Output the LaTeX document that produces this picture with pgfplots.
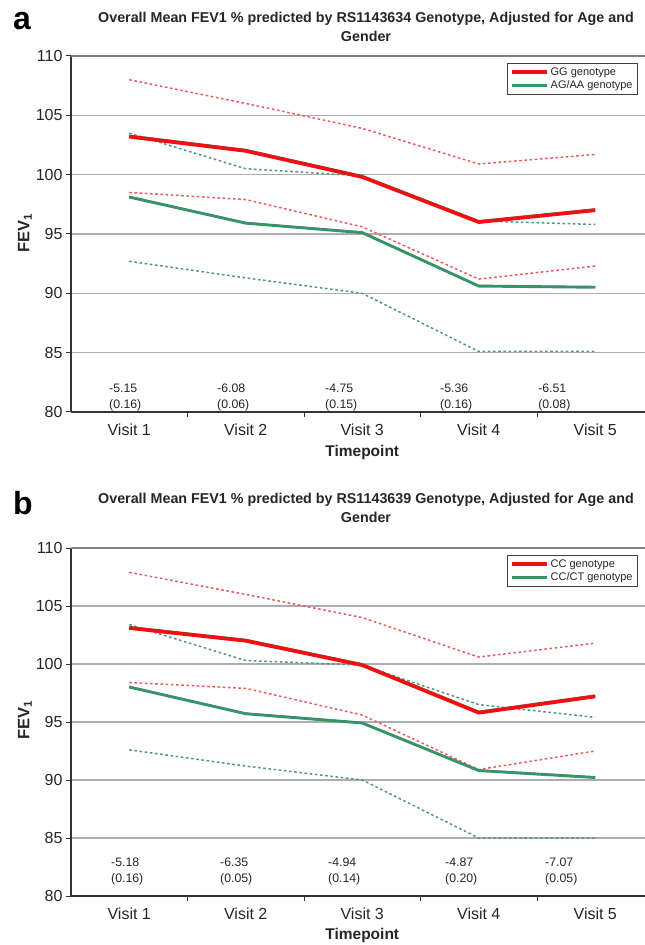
\documentclass[border=0pt]{standalone}
\usepackage{pgfplots}
\usepackage{pgfplotstable}
\pgfplotsset{compat=1.18}
\usepackage{fontspec}
\setmainfont{Liberation Sans}

\definecolor{meanred}{RGB}{240,16,16}
\definecolor{meangreen}{RGB}{50,150,102}
\definecolor{cired}{RGB}{236,92,92}
\definecolor{cigreen}{RGB}{86,150,120}
\definecolor{txt}{RGB}{38,38,38}

% panel a: means and 95% limits per visit
\pgfplotstableread{
visit GGm  AGm  GGhi  GGlo AGhi  AGlo
1     103.2 98.1 108.0 98.5 103.5 92.7
2     102.0 95.9 106.0 97.9 100.5 91.3
3     99.8  95.1 103.9 95.6 99.9  90.0
4     96.0  90.6 100.9 91.2 96.1  85.1
5     97.0  90.5 101.7 92.3 95.8  85.1
}\panela
% panel b
\pgfplotstableread{
visit CCm  CTm  CChi  CClo CThi  CTlo
1     103.1 98.0 107.9 98.4 103.4 92.6
2     102.0 95.7 106.0 97.9 100.3 91.2
3     99.9  94.9 104.0 95.6 99.9  90.0
4     95.8  90.8 100.6 90.9 96.5  85.0
5     97.2  90.2 101.8 92.5 95.4  85.0
}\panelb

\pgfplotsset{
  fevaxis/.style={
    scale only axis, width=574pt,
    xmin=0.5, xmax=5.427, ymin=80, ymax=110,
    axis x line*=bottom, axis y line*=left,
    axis line style={black!80, line width=1.3pt},
    xtick={1,2,3,4,5},
    xticklabels={Visit 1,Visit 2,Visit 3,Visit 4,Visit 5},
    minor xtick={1.5,2.5,3.5,4.5},
    major x tick style={draw=none},
    minor x tick style={black!80, line width=1pt},
    minor tick length=5pt, major tick length=5pt,
    tick align=outside,
    ytick={80,85,...,110},
    y tick style={black!80, line width=1pt},
    ymajorgrids, grid style={black!32, line width=1.2pt},
    tick label style={font=\fontsize{16}{18}\selectfont, text=txt},
    xticklabel style={yshift=-3pt},
    /pgf/number format/assume math mode=true,
    clip=false,
    legend style={at={(0.988,0.980)}, anchor=north east,
      draw=black!75, line width=1pt, fill=white,
      font=\fontsize{11}{13}\selectfont, text=txt,
      inner xsep=3pt, inner ysep=2pt, cells={anchor=west}},
    legend image code/.code={\draw[#1] (0pt,0pt) -- (35pt,0pt);},
  },
}
\tikzset{
  ci/.style={line width=1.5pt, dash pattern=on 2.6pt off 2.6pt},
  anot/.style={anchor=west, align=left, inner sep=0pt, text=txt,
    font=\fontsize{12.3}{16}\selectfont},
}

\begin{document}
\begin{tikzpicture}
\path[use as bounding box] (0pt,0pt) rectangle (645pt,945pt);

% ---------------- panel a ----------------
\node[anchor=base west, inner sep=0pt, font=\bfseries\fontsize{32}{32}\selectfont] at (13pt,915pt) {a};
\node[align=center, text=txt, font=\bfseries\fontsize{14.3}{19}\selectfont] at (366pt,918.5pt)
  {Overall Mean FEV1 \% predicted by RS1143634 Genotype, Adjusted for Age and\\Gender};
\begin{axis}[fevaxis, at={(71pt,533pt)}, anchor=south west, height=356pt]
  \addplot[ci, cired, forget plot] table[x=visit, y=GGhi] {\panela};
  \addplot[ci, cired, forget plot] table[x=visit, y=GGlo] {\panela};
  \addplot[ci, cigreen, forget plot] table[x=visit, y=AGhi] {\panela};
  \addplot[ci, cigreen, forget plot] table[x=visit, y=AGlo] {\panela};
  \addplot[black!60, line width=2.4pt, yshift=0.9pt, forget plot] table[x=visit, y=GGm] {\panela};
  \addplot[meanred, line width=3.6pt] table[x=visit, y=GGm] {\panela};
  \addplot[black!55, line width=1.8pt, yshift=0.7pt, forget plot] table[x=visit, y=AGm] {\panela};
  \addplot[meangreen, line width=2.6pt] table[x=visit, y=AGm] {\panela};
  \legend{GG genotype, AG/AA genotype}
  \draw[black!50, line width=2pt] (rel axis cs:0,1) -- (rel axis cs:1,1);
  \node[anot] at (axis cs:0.826,81.26) {-5.15\\(0.16)};
  \node[anot] at (axis cs:1.753,81.26) {-6.08\\(0.06)};
  \node[anot] at (axis cs:2.680,81.26) {-4.75\\(0.15)};
  \node[anot] at (axis cs:3.667,81.26) {-5.36\\(0.16)};
  \node[anot] at (axis cs:4.509,81.26) {-6.51\\(0.08)};
  \node[text=txt, font=\bfseries\fontsize{15.5}{18}\selectfont, yshift=-40pt] at (axis cs:3,80) {Timepoint};
  \node[text=txt, rotate=90, font=\bfseries\fontsize{16.5}{18}\selectfont] at (rel axis cs:-0.0801,0.503) {FEV\textsubscript{1}};
\end{axis}

% ---------------- panel b ----------------
\node[anchor=base west, inner sep=0pt, font=\bfseries\fontsize{32}{32}\selectfont] at (13pt,430pt) {b};
\node[align=center, text=txt, font=\bfseries\fontsize{14.3}{19}\selectfont] at (366pt,437pt)
  {Overall Mean FEV1 \% predicted by RS1143639 Genotype, Adjusted for Age and\\Gender};
\begin{axis}[fevaxis, at={(71pt,49pt)}, anchor=south west, height=348pt]
  \addplot[ci, cired, forget plot] table[x=visit, y=CChi] {\panelb};
  \addplot[ci, cired, forget plot] table[x=visit, y=CClo] {\panelb};
  \addplot[ci, cigreen, forget plot] table[x=visit, y=CThi] {\panelb};
  \addplot[ci, cigreen, forget plot] table[x=visit, y=CTlo] {\panelb};
  \addplot[black!60, line width=2.4pt, yshift=0.9pt, forget plot] table[x=visit, y=CCm] {\panelb};
  \addplot[meanred, line width=3.6pt] table[x=visit, y=CCm] {\panelb};
  \addplot[black!55, line width=1.8pt, yshift=0.7pt, forget plot] table[x=visit, y=CTm] {\panelb};
  \addplot[meangreen, line width=2.6pt] table[x=visit, y=CTm] {\panelb};
  \legend{CC genotype, CC/CT genotype}
  \draw[black!50, line width=2pt] (rel axis cs:0,1) -- (rel axis cs:1,1);
  \node[anot] at (axis cs:0.843,82.1) {-5.18\\(0.16)};
  \node[anot] at (axis cs:1.779,82.1) {-6.35\\(0.05)};
  \node[anot] at (axis cs:2.706,82.1) {-4.94\\(0.14)};
  \node[anot] at (axis cs:3.710,82.1) {-4.87\\(0.20)};
  \node[anot] at (axis cs:4.569,82.1) {-7.07\\(0.05)};
  \node[text=txt, font=\bfseries\fontsize{15.5}{18}\selectfont, yshift=-39pt] at (axis cs:3,80) {Timepoint};
  \node[text=txt, rotate=90, font=\bfseries\fontsize{16.5}{18}\selectfont] at (rel axis cs:-0.0801,0.506) {FEV\textsubscript{1}};
\end{axis}
\end{tikzpicture}
\end{document}
